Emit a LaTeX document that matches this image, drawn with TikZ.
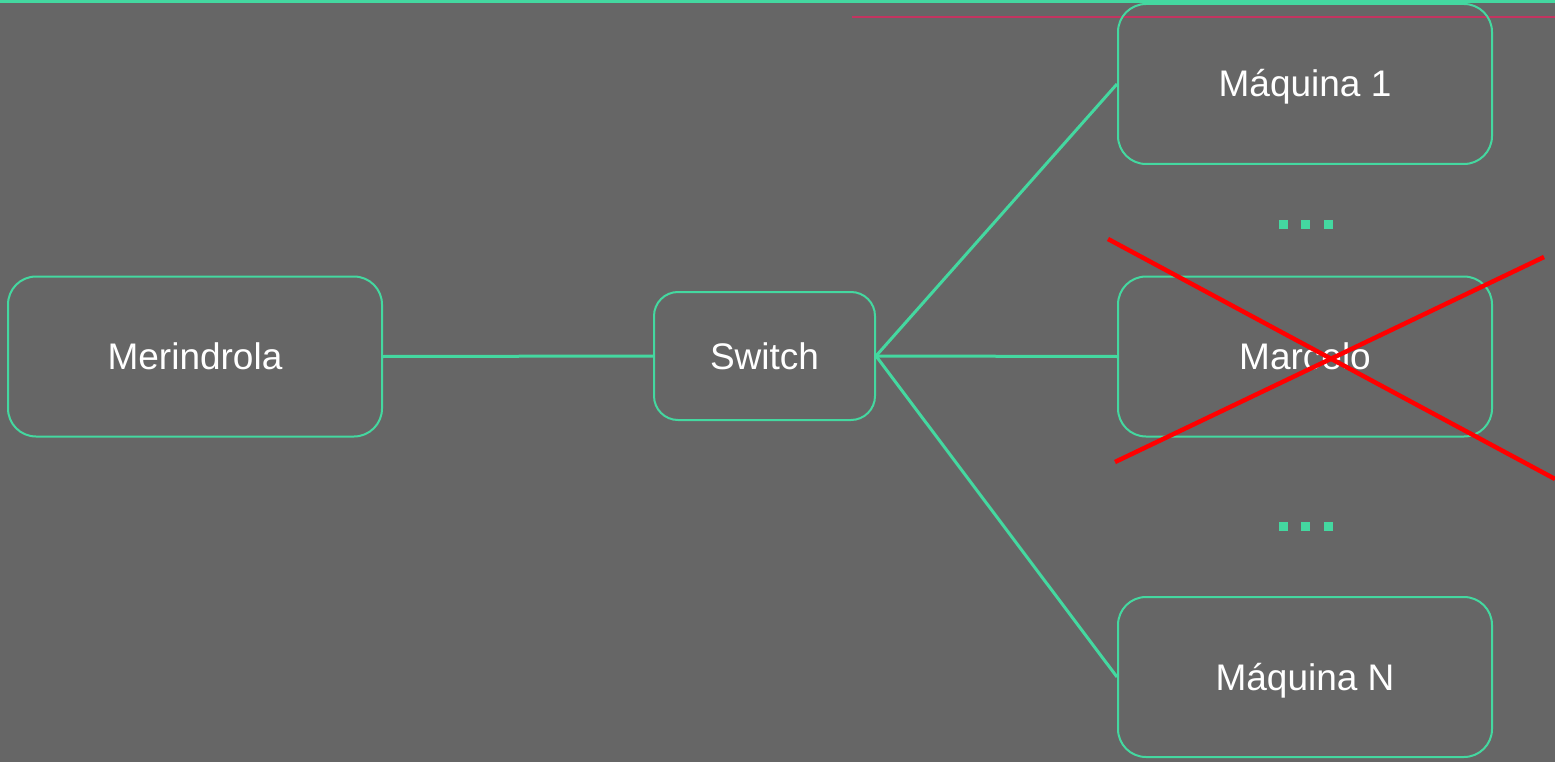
\documentclass[tikz,border=0pt]{standalone}
\usepackage{fontspec}
\setmainfont{Liberation Sans}
\definecolor{bg}{RGB}{102,102,102}
\definecolor{mint}{RGB}{68,216,160}
\definecolor{crimson}{RGB}{196,52,96}
\definecolor{xred}{RGB}{255,0,0}
\begin{document}
\begin{tikzpicture}[x=1pt,y=-1pt,
  box/.style={draw=mint, line width=2pt, rectangle, rounded corners=28pt, inner sep=0pt,
    minimum width=374pt, minimum height=160pt, text=white, font=\fontsize{37}{40}\selectfont,
    text height=26pt, text depth=0pt},
  smallbox/.style={box, rounded corners=24pt, minimum width=221pt, minimum height=128pt},
  link/.style={draw=mint, line width=3pt},
  dotsq/.style={fill=mint, rectangle, minimum size=9pt, inner sep=0pt},
  cross/.style={draw=xred, line width=4.5pt}]
\fill[bg] (0,0) rectangle (1555,762);
\useasboundingbox (0,0) rectangle (1555,762);
\draw[mint, line width=2.5pt] (0,1.5) -- (1555,1.5);
\draw[crimson, line width=2.5pt] (852,17) -- (1555,17);
\node[box] (mer) at (195,356.5) {Merindrola};
\node[smallbox] (sw) at (764.5,356) {Switch};
\node[box] (m1) at (1305,84) {Máquina 1};
\node[box] (mar) at (1305,356.5) {Marcelo};
\node[box] (mn) at (1305,677) {Máquina N};
\draw[link] (mer.east) -- (sw.west);
\draw[link] (sw.east) -- (m1.west);
\draw[link] (sw.east) -- (mar.west);
\draw[link] (sw.east) -- (mn.west);
\foreach \i/\x in {1/1283,2/1305,3/1328}{
  \node[dotsq] (da\i) at (\x,224.5) {};
  \node[dotsq] (db\i) at (\x,526) {};
}
\coordinate (xa1) at (1108,239);
\coordinate (xa2) at (1555,479);
\coordinate (xb1) at (1115,462);
\coordinate (xb2) at (1544,257);
\draw[cross] (xa1) -- (xa2);
\draw[cross] (xb1) -- (xb2);
\end{tikzpicture}
\end{document}
